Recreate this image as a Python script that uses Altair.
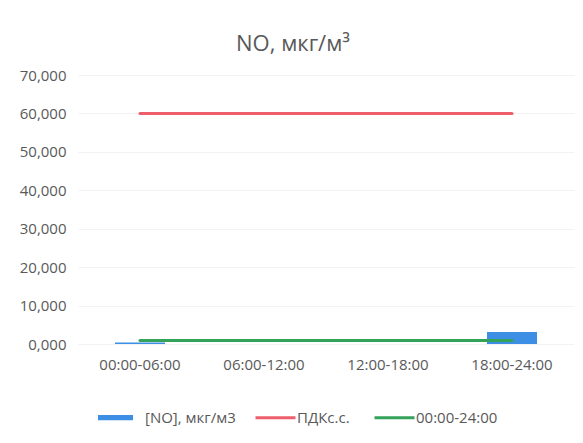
import altair as alt
import pandas as pd

categories = ["00:00-06:00", "06:00-12:00", "12:00-18:00", "18:00-24:00"]
no_values = [0.4, None, None, 3.1]
pdk_values = [60.0, 60.0, 60.0, 60.0]
daily_values = [0.9, 0.9, 0.9, 0.9]
bar_name = "[NO], мкг/м3"
line_names = ["ПДКс.с.", "00:00-24:00"]
bar_color = "#3D8FE6"
line_colors = ["#EF5F6B", "#34A35A"]
y_ticks = [0, 10, 20, 30, 40, 50, 60, 70]

bar_rows = [
    {"cat": c, "series": bar_name, "value": v}
    for c, v in zip(categories, no_values)
    if v is not None
]
line_rows = [
    {"cat": c, "series": line_names[0], "value": v}
    for c, v in zip(categories, pdk_values)
] + [
    {"cat": c, "series": line_names[1], "value": v}
    for c, v in zip(categories, daily_values)
]
bar_df = pd.DataFrame(bar_rows)
line_df = pd.DataFrame(line_rows)

FONT = "Open Sans"
TXT = "#595959"

x_enc = alt.X(
    "cat:N",
    sort=categories,
    scale=alt.Scale(domain=categories, paddingInner=0, paddingOuter=0),
    axis=alt.Axis(
        title=None, labelAngle=0, ticks=False, domain=False, grid=False,
        labelPadding=13, labelFont=FONT, labelFontSize=15, labelColor=TXT,
    ),
)
y_enc = alt.Y(
    "value:Q",
    scale=alt.Scale(domain=[0, 70], nice=False),
    axis=alt.Axis(
        values=y_ticks, title=None, ticks=False, domain=False,
        labelExpr="replace(format(datum.value, '.3f'), '.', ',')",
        gridColor="#f3f3f3", labelPadding=12,
        labelFont=FONT, labelFontSize=15, labelColor=TXT,
    ),
)

fill_enc = alt.Fill(
    "series:N",
    scale=alt.Scale(domain=[bar_name], range=[bar_color]),
    legend=alt.Legend(
        title=None, orient="none", legendX=20, legendY=325,
        direction="horizontal",
        symbolType="M-1,-0.15L1,-0.15L1,0.15L-1,0.15Z",
        symbolSize=1225, symbolStrokeWidth=0,
        labelOffset=12, labelFont=FONT, labelFontSize=15, labelColor=TXT,
    ),
)
stroke_enc = alt.Stroke(
    "series:N",
    scale=alt.Scale(domain=line_names, range=line_colors),
    legend=alt.Legend(
        title=None, orient="none", legendX=176, legendY=321,
        direction="horizontal",
        symbolType="stroke", symbolSize=1600, symbolStrokeWidth=3,
        columnPadding=18, labelOffset=0,
        labelFont=FONT, labelFontSize=15, labelColor=TXT,
    ),
)

bars = alt.Chart(bar_df).mark_bar(size=50).encode(x=x_enc, y=y_enc, fill=fill_enc)
lines = alt.Chart(line_df).mark_line(strokeWidth=3, strokeCap="round").encode(
    x=x_enc, y=y_enc, stroke=stroke_enc
)

chart = (
    alt.layer(bars, lines)
    .resolve_legend(fill="independent", stroke="independent")
    .properties(
        width=496,
        height=269,
        autosize=alt.AutoSizeParams(type="none"),
        padding={"left": 70, "top": 67, "right": 1, "bottom": 90},
        title=alt.TitleParams(
            "NO, мкг/м³", font=FONT, fontSize=22, fontWeight="normal",
            color=TXT, anchor="middle", dx=-33, offset=12,
        ),
        background="white",
    )
    .configure_view(stroke=None)
)

chart.save("out.html", embed_options={"renderer": "svg", "actions": False})
